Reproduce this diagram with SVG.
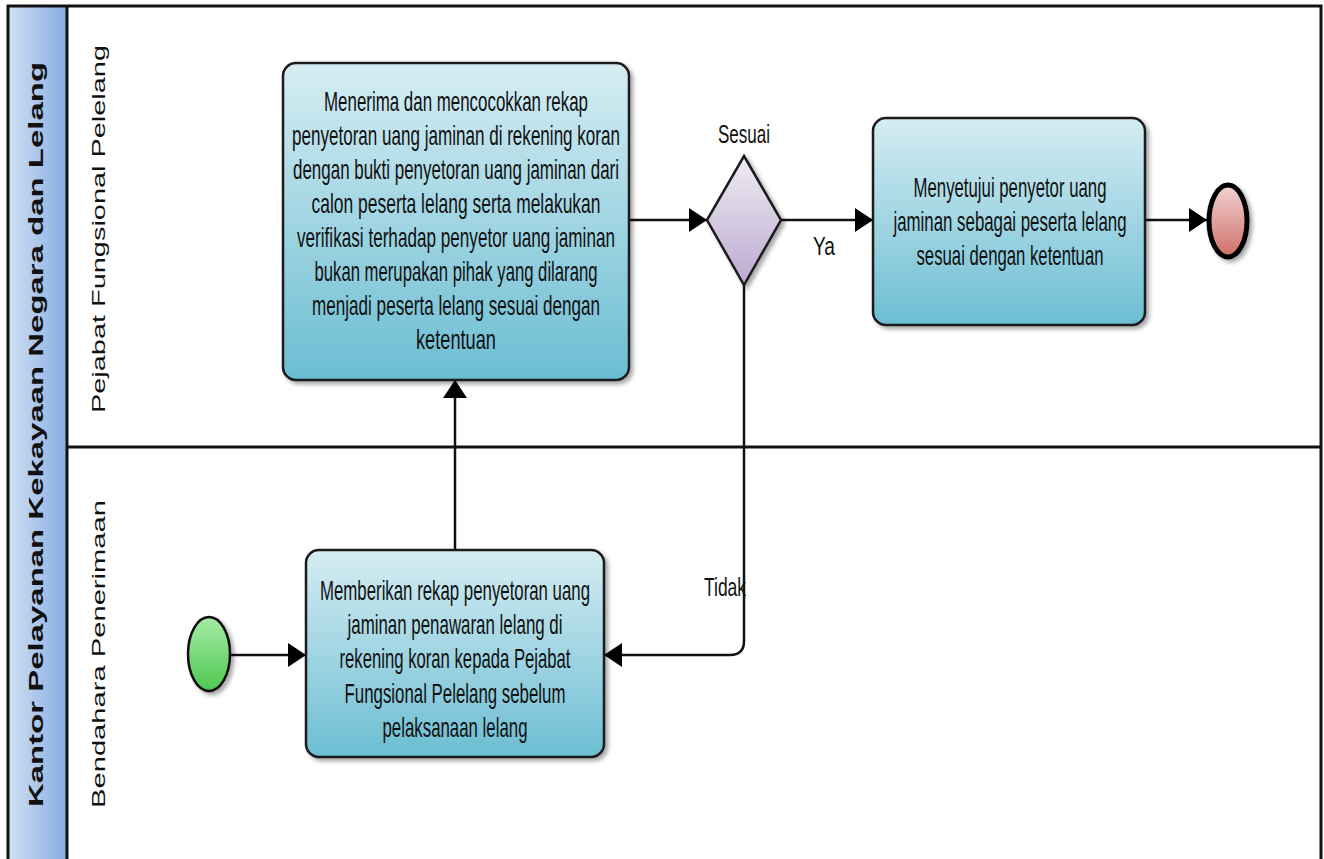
<svg xmlns="http://www.w3.org/2000/svg" width="1324" height="859" viewBox="0 0 1324 859">
<style>
.task{stroke:#1a1a1a;stroke-width:2.5;fill:url(#gTask)}
.t{font-family:"Liberation Sans Narrow","Liberation Sans",Arial,sans-serif;font-size:28px;fill:#111;text-anchor:middle}
.lbl{font-family:"Liberation Sans Narrow","Liberation Sans",Arial,sans-serif;font-size:26px;fill:#111;text-anchor:middle}
.lane{font-family:"Liberation Sans",Arial,sans-serif;font-size:19px;fill:#111;text-anchor:middle}
.pool{font-family:"Liberation Sans",Arial,sans-serif;font-size:21px;font-weight:bold;fill:#111;text-anchor:middle}
.c{fill:none;stroke:#111;stroke-width:2.5}
.border{fill:none;stroke:#111;stroke-width:3}
</style>
<defs>
<linearGradient id="gTask" x1="0" y1="0" x2="0" y2="1"><stop offset="0" stop-color="#d6edf3"/><stop offset="1" stop-color="#6bbdd2"/></linearGradient>
<linearGradient id="gHead" x1="0" y1="0" x2="1" y2="0"><stop offset="0" stop-color="#d0e1f5"/><stop offset="1" stop-color="#88ace0"/></linearGradient>
<linearGradient id="gDia" x1="0" y1="0" x2="0" y2="1"><stop offset="0" stop-color="#efecf4"/><stop offset="1" stop-color="#bba9cf"/></linearGradient>
<linearGradient id="gEnd" x1="0" y1="0" x2="0" y2="1"><stop offset="0" stop-color="#f2d4d4"/><stop offset="1" stop-color="#cf6e68"/></linearGradient>
<linearGradient id="gStart" x1="0" y1="0" x2="0" y2="1"><stop offset="0" stop-color="#a6eca6"/><stop offset="1" stop-color="#4fc850"/></linearGradient>
<filter id="sh" x="-20%" y="-20%" width="150%" height="150%"><feDropShadow dx="3" dy="3" stdDeviation="2" flood-color="#000" flood-opacity="0.35"/></filter>
<marker id="arr" viewBox="0 0 18 24" refX="18" refY="12" markerWidth="18" markerHeight="24" markerUnits="userSpaceOnUse" orient="auto"><path d="M0,0 L18,12 L0,24 Z" fill="#000"/></marker>
</defs>
<rect width="1324" height="859" fill="#fff"/>
<g id="pool">
<rect x="8" y="6" width="59" height="860" fill="url(#gHead)"/>
<line x1="67" y1="447" x2="1321" y2="447" class="border" stroke-width="2.5"/>
<path d="M8,866 V6 H1321 V866" class="border"/>
<line x1="67" y1="6" x2="67" y2="866" class="border"/>
<text class="pool" transform="translate(43,434.5) rotate(-90)" textLength="745" lengthAdjust="spacingAndGlyphs">Kantor Pelayanan Kekayaan Negara dan Lelang</text>
</g>
<g id="lane1"><text class="lane" transform="translate(105,229) rotate(-90)" textLength="368" lengthAdjust="spacingAndGlyphs">Pejabat Fungsional Pelelang</text></g>
<g id="lane2"><text class="lane" transform="translate(105,654) rotate(-90)" textLength="308" lengthAdjust="spacingAndGlyphs">Bendahara Penerimaan</text></g>
<g id="connectors">
<line class="c" x1="629" y1="220" x2="707" y2="220" marker-end="url(#arr)"/>
<line class="c" x1="781" y1="220" x2="873" y2="220" marker-end="url(#arr)"/>
<line class="c" x1="1145" y1="220" x2="1207" y2="220" marker-end="url(#arr)"/>
<line class="c" x1="231" y1="655" x2="306" y2="655" marker-end="url(#arr)"/>
<path class="c" d="M744,285 V641 Q744,655 730,655 H604" marker-end="url(#arr)"/>
<line class="c" x1="455" y1="550" x2="455" y2="380" marker-end="url(#arr)"/>
<text class="lbl" x="824" y="255" textLength="22" lengthAdjust="spacingAndGlyphs">Ya</text>
<text class="lbl" x="725" y="596" textLength="42" lengthAdjust="spacingAndGlyphs">Tidak</text>
</g>
<g id="task1">
<rect class="task" x="283" y="63" width="346" height="317" rx="13" filter="url(#sh)"/>
<text class="t" x="456" y="111" textLength="264" lengthAdjust="spacingAndGlyphs">Menerima dan mencocokkan rekap</text>
<text class="t" x="456" y="145" textLength="328" lengthAdjust="spacingAndGlyphs">penyetoran uang jaminan di rekening koran</text>
<text class="t" x="456" y="179" textLength="326" lengthAdjust="spacingAndGlyphs">dengan bukti penyetoran uang jaminan dari</text>
<text class="t" x="456" y="213" textLength="289" lengthAdjust="spacingAndGlyphs">calon peserta lelang serta melakukan</text>
<text class="t" x="456" y="247" textLength="318" lengthAdjust="spacingAndGlyphs">verifikasi terhadap penyetor uang jaminan</text>
<text class="t" x="456" y="281" textLength="283" lengthAdjust="spacingAndGlyphs">bukan merupakan pihak yang dilarang</text>
<text class="t" x="456" y="315" textLength="288" lengthAdjust="spacingAndGlyphs">menjadi peserta lelang sesuai dengan</text>
<text class="t" x="456" y="349" textLength="80" lengthAdjust="spacingAndGlyphs">ketentuan</text>
</g>
<g id="gateway">
<path d="M744,156 L781,220 L744,285 L707,220 Z" fill="url(#gDia)" stroke="#1a1a1a" stroke-width="2.5" filter="url(#sh)"/>
<text class="lbl" x="744" y="143" textLength="52" lengthAdjust="spacingAndGlyphs">Sesuai</text>
</g>
<g id="task2">
<rect class="task" x="873" y="118" width="272" height="207" rx="13" filter="url(#sh)"/>
<text class="t" x="1010" y="197" textLength="193" lengthAdjust="spacingAndGlyphs">Menyetujui penyetor uang</text>
<text class="t" x="1010" y="231" textLength="233" lengthAdjust="spacingAndGlyphs">jaminan sebagai peserta lelang</text>
<text class="t" x="1010" y="265" textLength="187" lengthAdjust="spacingAndGlyphs">sesuai dengan ketentuan</text>
</g>
<g id="end">
<ellipse cx="1228" cy="221" rx="19" ry="36" fill="url(#gEnd)" stroke="#000" stroke-width="5" filter="url(#sh)"/>
</g>
<g id="start">
<ellipse cx="209" cy="654" rx="21" ry="37" fill="url(#gStart)" stroke="#111" stroke-width="2.5" filter="url(#sh)"/>
</g>
<g id="task3">
<rect class="task" x="306" y="550" width="298" height="207" rx="13" filter="url(#sh)"/>
<text class="t" x="455" y="600" textLength="270" lengthAdjust="spacingAndGlyphs">Memberikan rekap penyetoran uang</text>
<text class="t" x="455" y="634" textLength="215" lengthAdjust="spacingAndGlyphs">jaminan penawaran lelang di</text>
<text class="t" x="455" y="668" textLength="231" lengthAdjust="spacingAndGlyphs">rekening koran kepada Pejabat</text>
<text class="t" x="455" y="703" textLength="221" lengthAdjust="spacingAndGlyphs">Fungsional Pelelang sebelum</text>
<text class="t" x="455" y="737" textLength="145" lengthAdjust="spacingAndGlyphs">pelaksanaan lelang</text>
</g>
</svg>
